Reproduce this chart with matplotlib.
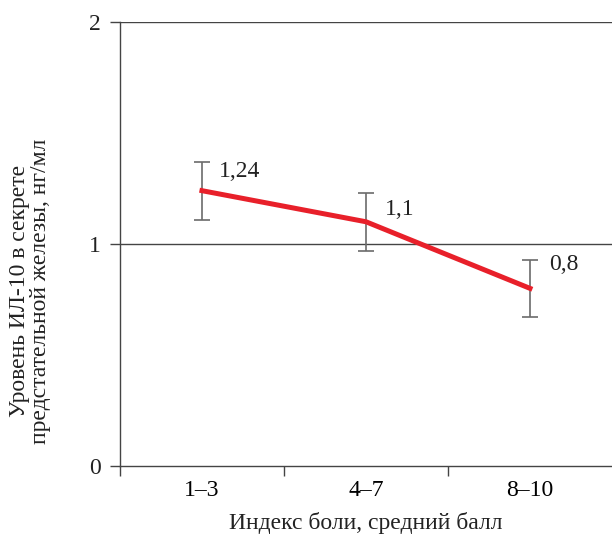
import numpy as np
import matplotlib.pyplot as plt

plt.rcParams['font.family'] = ['Liberation Serif', 'DejaVu Serif']

groups = ['1–3', '4–7', '8–10']
means = [1.24, 1.1, 0.8]
errs = [0.13, 0.13, 0.13]
labels = ['1,24', '1,1', '0,8']
label_offsets = [(12, 14), (14, 9), (14, 17)]  # points, right/up of each point

fig = plt.figure(figsize=(6.12, 5.35), dpi=100)
ax = fig.add_axes([0.196, 0.129, 0.804, 0.830])

x = np.arange(len(groups))
ax.errorbar(x, means, yerr=errs, fmt='none', ecolor='#6b6b6b',
            elinewidth=1.2, capsize=5.5, capthick=1.2, zorder=2)
ax.plot(x, means, color='#e8202a', lw=3.6, zorder=3)
for xi, m, t, off in zip(x, means, labels, label_offsets):
    ax.annotate(t, (xi, m), xytext=off, textcoords='offset points',
                ha='left', va='center', fontsize=17, color='#222222')

ax.set_xlim(-0.5, 2.5)
ax.set_ylim(0, 2)
ax.set_yticks([0, 1, 2])
ax.set_yticklabels(['0', '1', '2'])
ax.set_xticks([-0.5, 0.5, 1.5])
ax.set_xticklabels([])
ax.set_xticks(x, minor=True)
ax.set_xticklabels(groups, minor=True)
ax.tick_params(axis='x', which='minor', length=0, pad=10)
ax.tick_params(axis='x', which='major', length=7, width=1, color='#444444')
ax.tick_params(axis='y', length=7, width=1, color='#444444', pad=7)
ax.tick_params(labelsize=17, labelcolor='#222222')
ax.tick_params(axis='x', which='minor', labelsize=17)
for y in [1, 2]:
    ax.axhline(y, color='#444444', lw=1, zorder=1)
for s in ['top', 'right']:
    ax.spines[s].set_visible(False)
for s in ['left', 'bottom']:
    ax.spines[s].set_color('#444444')
    ax.spines[s].set_linewidth(1)

ax.set_xlabel('Индекс боли, средний балл', fontsize=17, color='#222222', labelpad=8)
ax.set_ylabel('Уровень ИЛ-10 в секрете\nпредстательной железы, нг/мл',
              fontsize=17, color='#222222', linespacing=1.0)
ax.yaxis.set_label_coords(-0.14, 0.394)

fig.savefig('out.png', dpi=100)
